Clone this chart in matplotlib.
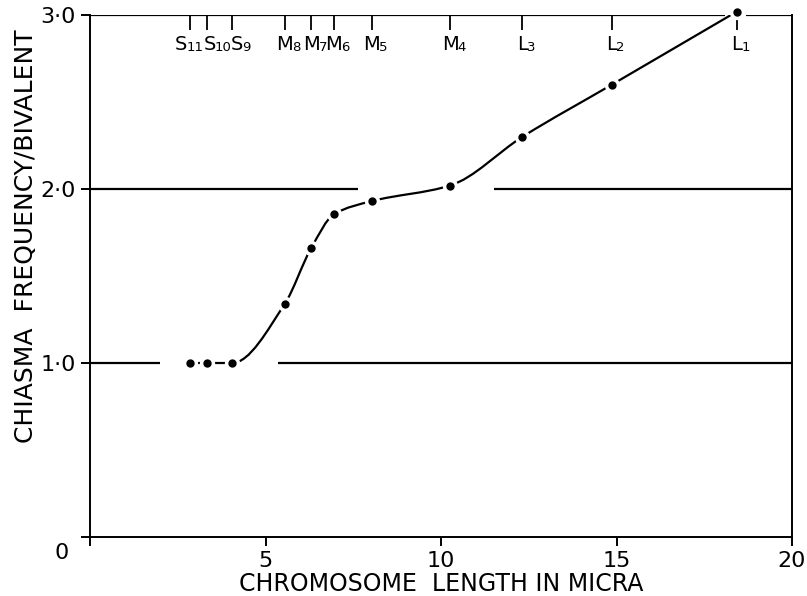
import numpy as np
import matplotlib
matplotlib.use('Agg')
import matplotlib.pyplot as plt
from matplotlib.path import Path
from matplotlib.patches import PathPatch
from matplotlib.transforms import offset_copy

# chromosome lengths (micra) and chiasma frequency per bivalent
chrom_letter = ['S', 'S', 'S', 'M', 'M', 'M', 'M', 'M', 'L', 'L', 'L']
chrom_index = ['11', '10', '9', '8', '7', '6', '5', '4', '3', '2', '1']
chrom_length = [2.85, 3.32, 4.05, 5.55, 6.3, 6.95, 8.02, 10.26, 12.32, 14.87, 18.43]
chiasma_freq = [1.0, 1.0, 1.0, 1.34, 1.66, 1.855, 1.93, 2.02, 2.30, 2.60, 3.02]
# sideways nudge (points) of each top label so the crowded ones fit
label_nudge = [-6.5, 2.2, 3.6, 0, 0, 0, 0, 0, 0, 0, 0]

# reference levels, drawn with gaps where the curve passes
level_1_segments = [(0, 2.0), (5.36, 20)]
level_2_segments = [(0, 7.64), (11.5, 20)]
level_3_segments = [(0, 18.1), (18.7, 20)]

x_ticks = [0, 5, 10, 15, 20]
x_ticklabels = ['', '5', '10', '15', '20']
y_ticks = [0, 1, 2, 3]
y_ticklabels = ['', '1·0', '2·0', '3·0']

plt.rcParams['font.family'] = ['DejaVu Sans']

fig = plt.figure(figsize=(8.07, 5.96), dpi=100)
ax = fig.add_axes([90 / 807, 1 - 537 / 596, 702 / 807, 522 / 596])
ax.set_xlim(0, 20)
ax.set_ylim(0, 3)

for side in ['left', 'bottom', 'right']:
    ax.spines[side].set_linewidth(1.4)
ax.spines['top'].set_visible(False)

lw = 1.6
for y, segs in [(1, level_1_segments), (2, level_2_segments), (3, level_3_segments)]:
    for a, b in segs:
        ax.plot([a, b], [y, y], color='black', lw=lw, solid_capstyle='butt')

# smooth monotone curve through the points, drawn as a bezier path
x = np.array(chrom_length)
y = np.array(chiasma_freq)
h = np.diff(x)
d = np.diff(y) / h
m = np.zeros_like(y)
for i in range(1, len(x) - 1):
    if d[i - 1] * d[i] > 0:
        w1 = 2 * h[i] + h[i - 1]
        w2 = h[i] + 2 * h[i - 1]
        m[i] = (w1 + w2) / (w1 / d[i - 1] + w2 / d[i])
m[0] = d[0]
m[-1] = d[-1]
verts = [(x[0], y[0])]
codes = [Path.MOVETO]
for i in range(len(x) - 1):
    verts += [(x[i] + h[i] / 3, y[i] + m[i] * h[i] / 3),
              (x[i + 1] - h[i] / 3, y[i + 1] - m[i + 1] * h[i] / 3),
              (x[i + 1], y[i + 1])]
    codes += [Path.CURVE4] * 3
ax.add_patch(PathPatch(Path(verts, codes), facecolor='none', edgecolor='black', lw=lw))

# chromosome markers along the top
ax.vlines(chrom_length, 2.915, 3.0, color='black', lw=1.3)
for cx, let, idx, dx in zip(chrom_length, chrom_letter, chrom_index, label_nudge):
    tr = offset_copy(ax.transData, fig=fig, x=dx, y=0, units='points')
    t = ax.text(cx, 2.80, let, ha='center', va='baseline', fontsize=14, transform=tr)
    ax.annotate(idx, xy=(1, 0), xycoords=t, xytext=(-0.8, -0.5),
                textcoords='offset points', ha='left', va='bottom', fontsize=9.5)

ax.plot(chrom_length, chiasma_freq, 'o', color='black', ms=7.5,
        mec='white', mew=3.5, zorder=5, clip_on=False)
ax.plot(chrom_length, chiasma_freq, 'o', color='black', ms=6,
        mew=0, zorder=6, clip_on=False)

ax.set_xticks(x_ticks)
ax.set_xticklabels(x_ticklabels)
ax.set_yticks(y_ticks)
ax.set_yticklabels(y_ticklabels)
ax.tick_params(direction='out', length=6.5, width=1.4, labelsize=16, pad=3.6)
ax.text(-0.8, -0.092, '0', ha='center', va='center', fontsize=16)

ax.set_xlabel('CHROMOSOME  LENGTH IN MICRA', fontsize=17)
ax.xaxis.set_label_coords(0.50, -0.067)
ax.set_ylabel('CHIASMA  FREQUENCY/BIVALENT', fontsize=18)
ax.yaxis.set_label_coords(-0.074, 0.577)

fig.savefig('out.png', dpi=100)
